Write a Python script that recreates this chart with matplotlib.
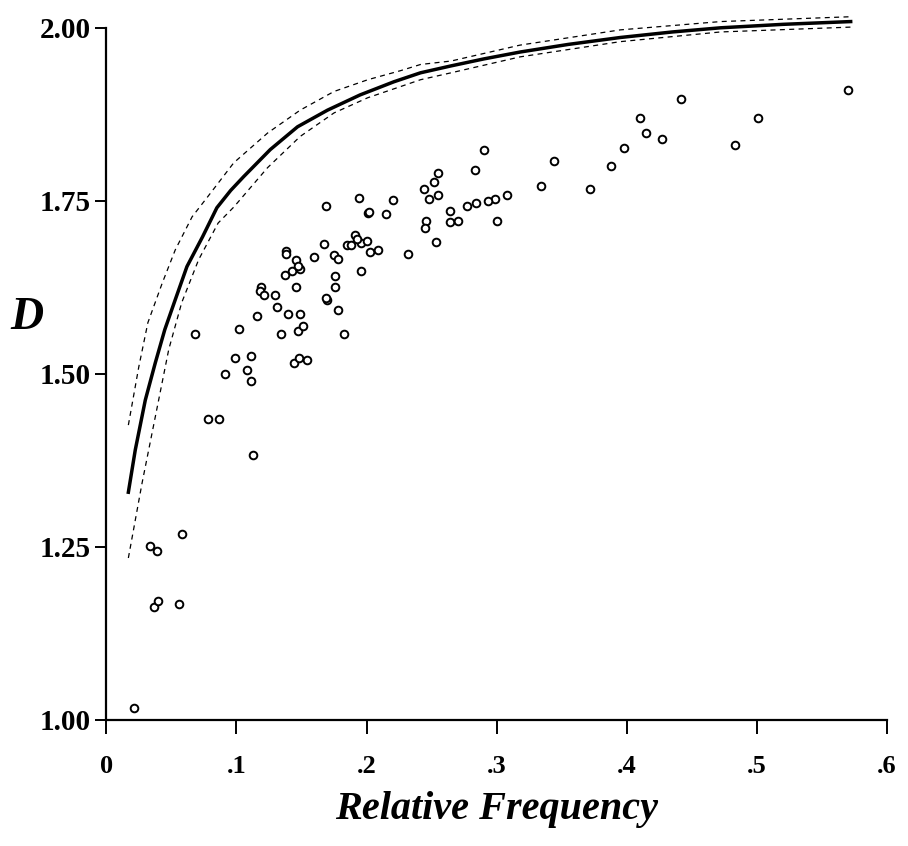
import matplotlib
matplotlib.use('Agg')
import matplotlib.pyplot as plt

# observed relative frequency vs D
rel_freq = [0.021, 0.034, 0.039, 0.037, 0.040, 0.056, 0.058, 0.068, 0.078, 0.087,
            0.0915, 0.099, 0.102, 0.108, 0.1115, 0.111, 0.113, 0.116, 0.131, 0.140,
            0.149, 0.134, 0.147, 0.151, 0.144, 0.148, 0.154, 0.170, 0.178, 0.183,
            0.169, 0.194, 0.220, 0.201, 0.202, 0.215, 0.167, 0.138, 0.138, 0.160,
            0.175, 0.178, 0.185, 0.188, 0.191, 0.196, 0.200, 0.203, 0.209, 0.193,
            0.146, 0.143, 0.149, 0.147, 0.137, 0.119, 0.118, 0.121, 0.130, 0.146,
            0.176, 0.176, 0.196, 0.169,
            0.570, 0.442, 0.501, 0.410, 0.415, 0.427, 0.483, 0.398, 0.388, 0.344,
            0.334, 0.372, 0.290, 0.283, 0.255, 0.252, 0.244, 0.248, 0.255, 0.308,
            0.299, 0.293, 0.284, 0.277, 0.264, 0.264, 0.270, 0.246, 0.245, 0.300,
            0.253, 0.232]
d_vals = [1.017, 1.251, 1.244, 1.163, 1.172, 1.168, 1.269, 1.558, 1.435, 1.435,
          1.500, 1.523, 1.565, 1.505, 1.526, 1.489, 1.383, 1.584, 1.597, 1.586,
          1.586, 1.557, 1.562, 1.569, 1.516, 1.523, 1.520, 1.607, 1.593, 1.558,
          1.742, 1.754, 1.751, 1.733, 1.734, 1.731, 1.688, 1.678, 1.673, 1.669,
          1.672, 1.666, 1.686, 1.686, 1.701, 1.689, 1.692, 1.676, 1.679, 1.695,
          1.664, 1.648, 1.651, 1.656, 1.643, 1.626, 1.620, 1.614, 1.614, 1.626,
          1.642, 1.625, 1.648, 1.610,
          1.910, 1.897, 1.870, 1.869, 1.848, 1.840, 1.831, 1.827, 1.801, 1.807,
          1.771, 1.767, 1.824, 1.795, 1.790, 1.777, 1.767, 1.753, 1.759, 1.758,
          1.753, 1.750, 1.747, 1.743, 1.735, 1.719, 1.721, 1.721, 1.711, 1.721,
          1.691, 1.673]

# fitted curve and its confidence band
fit_x = [0.017, 0.0223, 0.030, 0.0377, 0.045, 0.053, 0.062, 0.074, 0.085, 0.0956,
         0.1056, 0.126, 0.147, 0.170, 0.195, 0.221, 0.2415, 0.265, 0.290, 0.318,
         0.355, 0.395, 0.435, 0.472, 0.520, 0.572]
fit_y = [1.329, 1.390, 1.462, 1.516, 1.564, 1.607, 1.655, 1.698, 1.740, 1.765,
         1.785, 1.824, 1.857, 1.881, 1.903, 1.922, 1.935, 1.945, 1.955, 1.965,
         1.976, 1.986, 1.994, 2.000, 2.005, 2.009]
upper_x = [0.017, 0.025, 0.032, 0.043, 0.053, 0.066, 0.078, 0.098, 0.124, 0.149,
           0.175, 0.201, 0.226, 0.2415, 0.265, 0.318, 0.395, 0.472, 0.572]
upper_y = [1.426, 1.510, 1.574, 1.631, 1.679, 1.727, 1.756, 1.805, 1.848, 1.881,
           1.908, 1.925, 1.938, 1.947, 1.952, 1.975, 1.997, 2.009, 2.016]
lower_x = [0.017, 0.0275, 0.0377, 0.048, 0.058, 0.071, 0.086, 0.098, 0.124, 0.149,
           0.175, 0.201, 0.226, 0.2415, 0.265, 0.318, 0.395, 0.472, 0.572]
lower_y = [1.234, 1.342, 1.438, 1.535, 1.603, 1.665, 1.718, 1.741, 1.798, 1.843,
           1.877, 1.899, 1.915, 1.925, 1.935, 1.958, 1.980, 1.994, 2.001]

x_ticks = [0, 0.1, 0.2, 0.3, 0.4, 0.5, 0.6]
x_labels = ['0', '.1', '.2', '.3', '.4', '.5', '.6']
y_ticks = [1.00, 1.25, 1.50, 1.75, 2.00]
y_labels = ['1.00', '1.25', '1.50', '1.75', '2.00']

plt.rcParams['font.family'] = ['Liberation Serif', 'DejaVu Serif']

fig = plt.figure(figsize=(9.08, 8.46), dpi=100)
ax = fig.add_axes([0.117, 0.149, 0.860, 0.8345])

ax.plot(fit_x, fit_y, color='black', lw=2.5, clip_on=False,
        solid_joinstyle='round')
ax.plot(upper_x, upper_y, color='black', lw=0.9, ls=(0, (4, 3.5)), clip_on=False)
ax.plot(lower_x, lower_y, color='black', lw=0.9, ls=(0, (4, 3.5)), clip_on=False)
ax.plot(rel_freq, d_vals, 'o', mfc='white', mec='black', ms=5.5, mew=1.4,
        clip_on=False)

ax.set_xlim(0, 0.6)
ax.set_ylim(1.0, 2.02)
ax.spines['top'].set_visible(False)
ax.spines['right'].set_visible(False)
ax.spines['left'].set_bounds(1.0, 2.0)
ax.spines['left'].set_linewidth(1.6)
ax.spines['bottom'].set_linewidth(1.6)

ax.set_xticks(x_ticks)
ax.set_xticklabels(x_labels, fontsize=19, fontweight='bold')
ax.set_yticks(y_ticks)
ax.set_yticklabels(y_labels, fontsize=21, fontweight='bold')
ax.tick_params(axis='x', direction='out', length=10, width=1.4, pad=15)
ax.tick_params(axis='y', direction='out', length=8, width=1.4, pad=3)

ax.set_xlabel('Relative Frequency', fontsize=29, fontweight='bold',
              fontstyle='italic', va='center')
ax.xaxis.set_label_coords(0.5, -0.127)
ax.set_ylabel('D', fontsize=33, fontweight='bold', fontstyle='italic',
              rotation=0, va='center', ha='center')
ax.yaxis.set_label_coords(-0.101, 0.57)

fig.savefig('out.png', dpi=100)
